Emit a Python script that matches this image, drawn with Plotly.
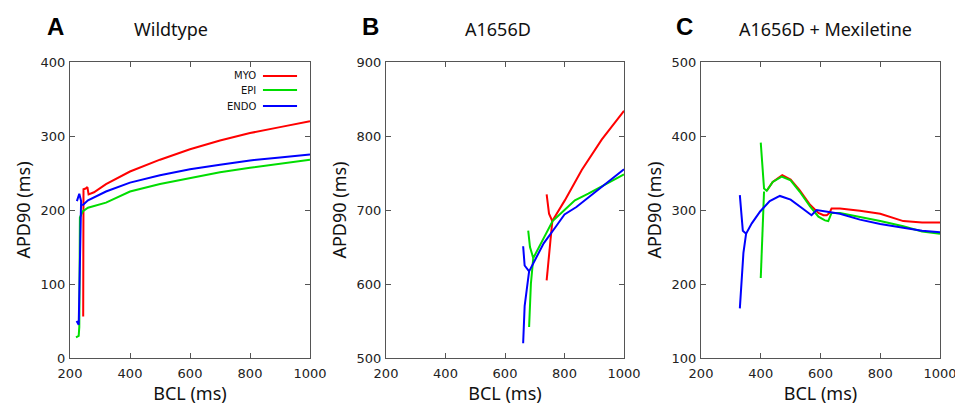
import plotly.graph_objects as go
from plotly.subplots import make_subplots

# APD90 restitution. None = break in the line

# A - Wildtype
myo_a_bcl = [244, 245, 252, 258, 262, 280, 320, 400, 500, 600, 700, 800, 900, 1000]
myo_a_apd = [56, 228, 229, 231, 221, 224, 235, 252, 268, 282, 294, 304, 312, 320]
epi_a_bcl = [220, 229, 231, 233, 242, 260, 320, 400, 500, 600, 700, 800, 900, 1000]
epi_a_apd = [28, 30, 42, 190, 198, 203, 210, 225, 235, 243, 251, 257, 263, 268]
endo_a_bcl = [223, 231, 237, 233, 231, 229, 222, None, 241, 260, 320, 400, 500, 600, 700, 800, 900, 1000]
endo_a_apd = [212, 222, 212, 120, 52, 45, 50, None, 206, 213, 225, 237, 247, 255, 261, 267, 271, 275]

# B - A1656D
myo_b_bcl = [740, 748, 759, 770, 801, 858, 925, 1000, None, 740, 750, 759]
myo_b_apd = [721, 695, 685, 692, 713, 754, 795, 834, None, 605, 650, 685]
epi_b_bcl = [678, 684, 695, 720, 760, 800, 835, 880, 930, 1000, None, 681, 687, 695]
epi_b_apd = [672, 650, 635, 655, 685, 700, 713, 722, 733, 748, None, 542, 600, 635]
endo_b_bcl = [661, 666, 681, 700, 730, 770, 800, 840, 880, 930, 1000, None, 661, 666, 673, 681]
endo_b_apd = [651, 625, 617, 632, 655, 677, 694, 704, 717, 733, 755, None, 520, 570, 592, 617]

# C - A1656D + Mexiletine
myo_c_bcl = [420, 440, 472, 500, 530, 565, 593, 610, 621, 630, 637, 665, 732, 800, 877, 940, 1000]
myo_c_apd = [326, 338, 347, 341, 327, 307, 296, 293, 293, 296, 302, 302, 299, 295, 285, 283, 283]
epi_c_bcl = [400, 405, 411, 420, 440, 470, 500, 530, 565, 593, 615, 626, 632, 637, 665, 732, 800, 877, 940, 1000,
             None, 400, 406, 411]
epi_c_apd = [391, 360, 329, 326, 338, 345, 340, 325, 305, 291, 286, 285, 290, 296, 296, 291, 285, 278, 271, 268,
             None, 208, 290, 325]
endo_c_bcl = [330, 340, 351, 370, 398, 430, 464, 500, 540, 570, 587, 620, 665, 732, 800, 877, 940, 1000,
              None, 330, 337, 342, 351]
endo_c_apd = [320, 272, 268, 282, 298, 312, 319, 314, 302, 293, 300, 298, 295, 287, 281, 276, 272, 270,
              None, 167, 215, 242, 268]

panels = [
    ("A", "Wildtype", [0, 400], [(myo_a_bcl, myo_a_apd), (epi_a_bcl, epi_a_apd), (endo_a_bcl, endo_a_apd)]),
    ("B", "A1656D", [500, 900], [(myo_b_bcl, myo_b_apd), (epi_b_bcl, epi_b_apd), (endo_b_bcl, endo_b_apd)]),
    ("C", "A1656D + Mexiletine", [100, 500], [(myo_c_bcl, myo_c_apd), (epi_c_bcl, epi_c_apd), (endo_c_bcl, endo_c_apd)]),
]
names = ["MYO", "EPI", "ENDO"]
colors = ["#ff0000", "#00dd00", "#0000ff"]

# the page body has an 8px margin, so the figure is drawn 8px in and 8px smaller
PAD = 8
W, H = 963 - PAD, 407 - PAD
# plot boxes in pixels, measured on the reference window
xdom = [(70, 310), (386, 624), (701, 940)]
ytop, ybot = 62, 358
letter_x = [55, 370, 684]
title_x = [171, 498, 825]


def px(v):
    return (v - PAD) / W


def py(v):
    return 1 - (v - PAD) / H


fig = make_subplots(rows=1, cols=3)

tickfont = dict(family="DejaVu Sans", size=13, color="#222")
titlefont = dict(family="Noto Sans", size=18, color="#111")

for i, (letter, title, yr, series) in enumerate(panels):
    for (bcl, apd), name, col in zip(series, names, colors):
        fig.add_trace(go.Scatter(x=bcl, y=apd, mode="lines", name=name,
                                 line=dict(color=col, width=2), showlegend=False),
                      row=1, col=i + 1)
    axis_common = dict(showline=True, mirror="ticks", linecolor="#555", linewidth=1,
                       ticks="inside", ticklen=5, tickcolor="#555", showgrid=False,
                       zeroline=False, tickfont=tickfont, title_font=titlefont, automargin=False)
    fig.update_xaxes(range=[200, 1000], tickvals=[200, 400, 600, 800, 1000],
                     domain=[px(xdom[i][0]), px(xdom[i][1])], ticklabelstandoff=3,
                     title_text="BCL (ms)", title_standoff=1, **axis_common, row=1, col=i + 1)
    fig.update_yaxes(range=yr, dtick=100, domain=[py(ybot), py(ytop)], ticklabelstandoff=1,
                     title_text="APD90 (ms)", title_standoff=5, **axis_common, row=1, col=i + 1)

    fig.add_annotation(text="<b>" + letter + "</b>", x=px(letter_x[i]), y=py(26),
                       xref="paper", yref="paper", showarrow=False,
                       font=dict(family="Liberation Sans", size=24, color="#000"),
                       xanchor="center", yanchor="middle")
    fig.add_annotation(text=title, x=px(title_x[i]), y=py(29), xref="paper", yref="paper",
                       showarrow=False, font=dict(family="Noto Sans", size=18, color="#111"),
                       xanchor="center", yanchor="middle")

# legend inside panel A, text right-aligned with the line sample after it
leg_y = [0.953, 0.905, 0.851]
for name, col, ly in zip(names, colors, leg_y):
    fig.add_annotation(text=name, x=0.783, y=ly, xref="x domain", yref="y domain",
                       showarrow=False, xanchor="right", yanchor="middle",
                       font=dict(family="DejaVu Sans", size=10, color="#111"))
    fig.add_shape(type="line", x0=0.804, x1=0.946, y0=ly, y1=ly, xref="x domain", yref="y domain",
                  line=dict(color=col, width=2))

fig.update_layout(width=W, height=H, margin=dict(l=0, r=0, t=0, b=0),
                  plot_bgcolor="white", paper_bgcolor="white", showlegend=False)

fig.write_html("out.html")
